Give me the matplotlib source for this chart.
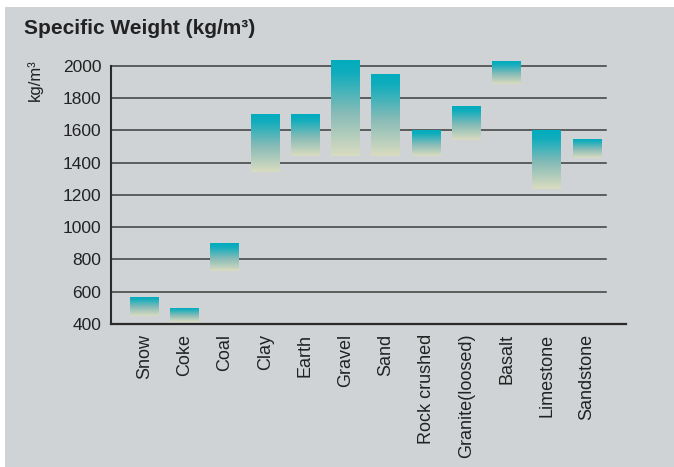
import matplotlib
matplotlib.use("Agg")
import matplotlib.pyplot as plt
import numpy as np
from matplotlib.colors import LinearSegmentedColormap
from matplotlib.patches import Rectangle

plt.rcParams['font.family'] = ['Liberation Sans', 'DejaVu Sans']

materials = ["Snow", "Coke", "Coal", "Clay", "Earth", "Gravel", "Sand",
             "Rock crushed", "Granite(loosed)", "Basalt", "Limestone", "Sandstone"]
low = [450, 410, 730, 1340, 1440, 1440, 1440, 1440, 1540, 1890, 1240, 1430]
high = [570, 500, 900, 1700, 1700, 2040, 1950, 1600, 1750, 2030, 1600, 1550]
yticks = [400, 600, 800, 1000, 1200, 1400, 1600, 1800, 2000]

W, H = 674, 467
fig = plt.figure(figsize=(W / 100, H / 100), dpi=100)
fig.patch.set_facecolor('white')
bg = '#cfd3d6'
fig.patches.append(Rectangle((5 / W, 0), 1 - 5 / W, 1 - 7 / H, transform=fig.transFigure,
                             facecolor=bg, edgecolor='none', zorder=-10))

left, right = 111 / W, 626 / W
bottom = 1 - 324 / H
top = 1 - 56.3 / H
ax = fig.add_axes([left, bottom, right - left, top - bottom])
ax.set_facecolor('none')
ax.patch.set_visible(False)

x = np.arange(len(materials))
heights = np.array(high) - np.array(low)
bars = ax.bar(x, heights, bottom=low, width=0.72, color='none', edgecolor='none', zorder=3)

cmap = LinearSegmentedColormap.from_list('g', [(0.0, '#dadcc0'), (0.45, '#86bbb7'),
                                               (0.86, '#10adbd'), (1.0, '#00acbd')])
grad = np.linspace(1, 0, 256).reshape(-1, 1)
for b in bars:
    x0, y0 = b.get_x(), b.get_y()
    im = ax.imshow(grad, extent=[x0, x0 + b.get_width(), y0, y0 + b.get_height()],
                   aspect='auto', cmap=cmap, vmin=0, vmax=1, zorder=3, interpolation='bilinear')
    im.set_clip_path(b)

xmin_l, xmax_l = -0.833, 11.97
ax.set_xlim(xmin_l, xmax_l)
ax.set_ylim(400, 2060)
grid_end = (11.47 - xmin_l) / (xmax_l - xmin_l)
for v in yticks[1:]:
    ax.axhline(v, xmin=0, xmax=grid_end, color='#3c3c3c', lw=1.1, zorder=2)

for s in ['top', 'right']:
    ax.spines[s].set_visible(False)
ax.spines['left'].set_bounds(400, 2000)
ax.spines['left'].set_color('#2a2a2a')
ax.spines['left'].set_linewidth(1.5)
ax.spines['bottom'].set_color('#2a2a2a')
ax.spines['bottom'].set_linewidth(1.6)

ax.set_yticks(yticks)
ax.set_yticklabels([str(v) for v in yticks], fontsize=12.5, color='#222222')
ax.tick_params(axis='y', length=0, pad=7)
ax.set_xticks(x)
ax.set_xticklabels(materials, rotation=90, fontsize=13, color='#222222', va='top', ha='center')
ax.tick_params(axis='x', length=0, pad=7)

fig.text(24 / W, 1 - 29 / H, 'Specific Weight (kg/m\u00b3)', fontsize=15, fontweight='bold',
         color='#222222', va='center', ha='left')
fig.text(35 / W, 1 - 80 / H, 'kg/m\u00b3', fontsize=12, rotation=90, color='#222222',
         va='center', ha='center')

fig.savefig('out.png', dpi=100, facecolor=fig.get_facecolor())
